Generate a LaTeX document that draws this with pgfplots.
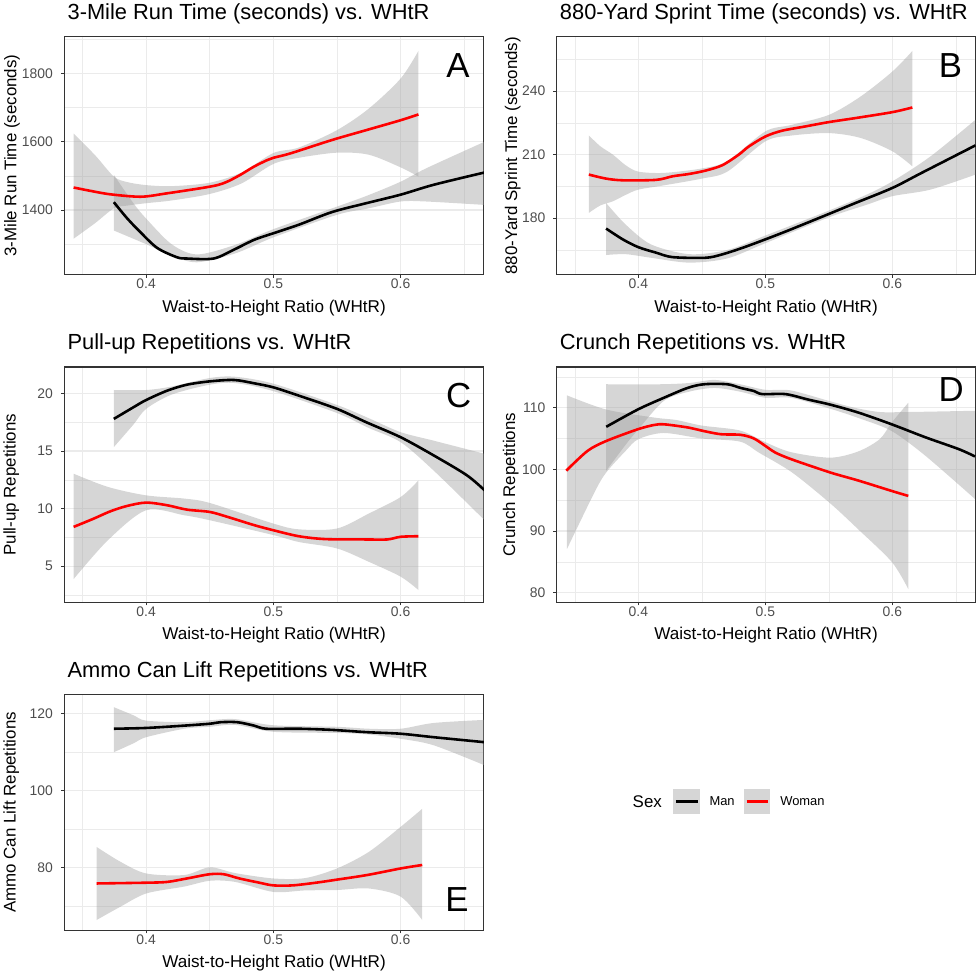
\documentclass[border=0pt]{standalone}
\usepackage{fontspec}
\setmainfont{Liberation Sans}
\usepackage{pgfplots}
\pgfplotsset{compat=1.18}
\usepgfplotslibrary{fillbetween}
\definecolor{gridc}{RGB}{235,235,235}
\definecolor{borderc}{RGB}{51,51,51}
\definecolor{tickc}{RGB}{77,77,77}
\definecolor{ribc}{RGB}{153,153,153}
\definecolor{wred}{RGB}{255,0,0}
\newcommand{\ribbon}[3]{%
 \addplot[name path=#1u,draw=none,smooth,forget plot] coordinates {#2};
 \addplot[name path=#1l,draw=none,smooth,forget plot] coordinates {#3};
 \addplot[fill=ribc,fill opacity=0.4,draw=none,forget plot] fill between[of=#1u and #1l];}
\tikzset{letter/.style={font=\fontsize{35}{35}\selectfont, anchor=center}}
\pgfplotsset{
 panel/.style={
  width=421bp, height=239bp, scale only axis,
  xmin=0.3355, xmax=0.6655,
  xtick={0.4,0.5,0.6}, xticklabels={0.4,0.5,0.6},
  minor xtick={0.35,0.45,0.55,0.65},
  grid=both,
  major grid style={gridc, line width=1.2bp},
  minor grid style={gridc, line width=0.6bp},
  axis line style={borderc, line width=1.1bp},
  tick style={borderc, line width=0.8bp},
  tick align=outside, major tick length=3bp, minor tick length=0pt,
  tick pos=left,
  /pgf/number format/assume math mode=true,
  ticklabel style={tickc, font=\fontsize{14}{14}\selectfont},
  xticklabel style={anchor=center, yshift=-6bp},
  yticklabel style={anchor=east, inner sep=0pt, xshift=-8bp},
  xlabel={Waist-to-Height Ratio (WHtR)},
  xlabel style={at={(axis description cs:0.5,-0.14)}, anchor=center, font=\fontsize{17.2}{17.2}\selectfont},
  ylabel style={at={(axis description cs:-0.124,0.5)}, anchor=center, font=\fontsize{17}{17}\selectfont},
  title style={at={(axis description cs:0,1)}, anchor=base west, yshift=11.5bp, font=\fontsize{22}{22}\selectfont},
  man/.style={black, line width=2.6bp, smooth},
  woman/.style={wred, line width=2.6bp, smooth},
 },
}
\begin{document}
\begin{tikzpicture}
\path (0,0) rectangle (980bp,974bp);
% ---------------- A ----------------
\begin{axis}[panel, at={(63bp,707bp)}, anchor=south west,
 ymin=1210, ymax=1908, ytick={1400,1600,1800}, yticklabels={1400,1600,1800},
 minor ytick={1300,1500,1700,1900},
 title={3-Mile Run Time (seconds) vs. WHtR}, ylabel={3-Mile Run Time (seconds)}]
\ribbon{am}{(0.3746,1503)(0.39,1420)(0.40,1375)(0.42,1300)(0.44,1270)(0.47,1298)(0.5,1344)(0.55,1410)(0.575,1444)(0.6,1483)(0.62,1522)(0.666,1600)}
 {(0.3746,1340)(0.40,1300)(0.42,1266)(0.44,1247)(0.47,1273)(0.5,1320)(0.55,1386)(0.575,1405)(0.6,1425)(0.62,1425)(0.666,1415)}
\ribbon{aw}{(0.343,1624)(0.36,1560)(0.3746,1498)(0.385,1482)(0.40,1473)(0.42,1470)(0.45,1480)(0.475,1510)(0.5,1567)(0.52,1583)(0.55,1634)(0.575,1697)(0.6,1785)(0.614,1866)}
 {(0.343,1316)(0.36,1362)(0.3746,1405)(0.385,1413)(0.40,1420)(0.42,1428)(0.45,1447)(0.475,1478)(0.5,1535)(0.52,1553)(0.55,1568)(0.575,1562)(0.6,1525)(0.614,1498)}
\addplot[man] coordinates {(0.3746,1423)(0.385,1376)(0.3955,1335)(0.4087,1289)(0.424,1262)(0.432,1258)(0.453,1258)(0.469,1284)(0.485,1313)(0.5,1332)(0.52,1357)(0.546,1394)(0.573,1420)(0.6,1445)(0.626,1474)(0.666,1510)};
\addplot[woman] coordinates {(0.343,1466)(0.355,1457)(0.372,1446)(0.396,1439)(0.4165,1449)(0.443,1464)(0.456,1473)(0.4637,1483)(0.474,1503)(0.4847,1527)(0.495,1546)(0.5,1553)(0.5135,1566)(0.546,1605)(0.573,1634)(0.6,1663)(0.614,1680)};
\node[letter] at (rel axis cs:0.938,0.879) {A};
\end{axis}
% ---------------- B ----------------
\begin{axis}[panel, at={(556.7bp,707bp)}, anchor=south west, width=420.3bp,
 ymin=153.2, ymax=265.8, ytick={180,210,240}, yticklabels={180,210,240},
 minor ytick={165,195,225,255},
 ylabel style={at={(axis description cs:-0.104,0.5)}},
 title={880-Yard Sprint Time (seconds) vs. WHtR}, ylabel={880-Yard Sprint Time (seconds)}]
\ribbon{bm}{(0.3746,187.2)(0.39,177)(0.41,167.6)(0.44,163)(0.47,165)(0.5,171.8)(0.55,183.6)(0.58,191.2)(0.6,197.4)(0.63,209.2)(0.6654,226.5)}
 {(0.3746,162.6)(0.39,163)(0.41,161.3)(0.44,159)(0.47,161)(0.5,168.2)(0.55,180.4)(0.58,186.4)(0.6,190.4)(0.63,193.5)(0.6654,200.6)}
\ribbon{bw}{(0.361,219.1)(0.37,214)(0.38,210)(0.39,205)(0.40,202)(0.42,201.4)(0.45,203.5)(0.47,207)(0.5,221)(0.52,224)(0.55,228.8)(0.575,237.5)(0.6,249.3)(0.6157,259)}
 {(0.361,182.5)(0.37,186)(0.38,188)(0.39,191)(0.40,193.5)(0.42,195.5)(0.45,198.7)(0.47,202)(0.5,216.3)(0.52,219)(0.55,220.2)(0.575,217.9)(0.6,211.6)(0.6157,204.5)}
\addplot[man] coordinates {(0.3746,175.1)(0.3877,170)(0.4,166.3)(0.414,163.7)(0.427,161.6)(0.453,161.3)(0.466,162.9)(0.482,166)(0.5,170)(0.518,174.2)(0.55,182)(0.571,187.2)(0.6,194.3)(0.623,201.4)(0.6654,214.4)};
\addplot[woman] coordinates {(0.361,200.6)(0.3746,198.7)(0.3877,197.9)(0.414,198.1)(0.427,199.8)(0.44,200.9)(0.453,202.5)(0.466,205)(0.479,210)(0.487,213.9)(0.5,218.6)(0.513,221.3)(0.531,223.3)(0.55,225.4)(0.571,227.3)(0.6,230.1)(0.6157,232.3)};
\node[letter] at (rel axis cs:0.94,0.879) {B};
\end{axis}
% ---------------- C ----------------
\begin{axis}[panel, at={(63bp,378.7bp)}, anchor=south west, height=236bp,
 ymin=1.86, ymax=22.3, ytick={5,10,15,20}, yticklabels={5,10,15,20},
 minor ytick={2.5,7.5,12.5,17.5},
 ylabel style={at={(axis description cs:-0.126,0.5)}},
 title={Pull-up Repetitions vs. WHtR}, ylabel={Pull-up Repetitions}]
\ribbon{cm}{(0.3746,20.3)(0.40,20.3)(0.42,20.6)(0.45,21.34)(0.47,21.45)(0.5,20.85)(0.55,19.0)(0.575,17.85)(0.6,16.64)(0.626,15.9)(0.666,14.76)}
 {(0.3746,15.34)(0.39,17.3)(0.40,18.66)(0.42,19.9)(0.45,20.76)(0.47,20.9)(0.5,20.2)(0.55,18.3)(0.575,17.0)(0.6,15.77)(0.626,13.3)(0.666,8.99)}
\ribbon{cw}{(0.343,13.03)(0.37,11.88)(0.40,11.15)(0.43,10.87)(0.45,10.49)(0.5,8.7)(0.52,8.2)(0.55,8.27)(0.575,9.57)(0.6,11.0)(0.614,12.45)}
 {(0.343,3.88)(0.37,7.26)(0.40,9.86)(0.43,9.42)(0.45,8.99)(0.5,7.7)(0.52,7.1)(0.55,6.54)(0.575,5.38)(0.6,4.09)(0.614,2.93)}
\addplot[man] coordinates {(0.3746,17.79)(0.39,18.8)(0.4,19.43)(0.4165,20.24)(0.432,20.76)(0.45,21.05)(0.469,21.17)(0.485,20.88)(0.5,20.53)(0.52,19.81)(0.55,18.66)(0.573,17.5)(0.6,16.2)(0.626,14.62)(0.652,12.9)(0.666,11.59)};
\addplot[woman] coordinates {(0.343,8.41)(0.3588,9.13)(0.372,9.77)(0.385,10.23)(0.4,10.52)(0.4165,10.29)(0.432,9.91)(0.45,9.71)(0.464,9.28)(0.485,8.56)(0.5,8.12)(0.52,7.6)(0.541,7.35)(0.573,7.32)(0.5895,7.32)(0.6,7.55)(0.614,7.6)};
\node[letter] at (rel axis cs:0.94,0.878) {C};
\end{axis}
% ---------------- D ----------------
\begin{axis}[panel, at={(556.7bp,378.7bp)}, anchor=south west, width=420.3bp, height=236bp,
 ymin=78.45, ymax=116.6, ytick={80,90,100,110}, yticklabels={80,90,100,110},
 minor ytick={85,95,105,115},
 ylabel style={at={(axis description cs:-0.109,0.5)}},
 title={Crunch Repetitions vs. WHtR}, ylabel={Crunch Repetitions}]
\ribbon{dm}{(0.3747,113.8)(0.4178,113.8)(0.44,114.0)(0.46,114.5)(0.48,113.8)(0.50,112.9)(0.52,112.8)(0.55,111.1)(0.57,110.0)(0.59,109.3)(0.6125,109.3)(0.665,109.5)}
 {(0.3747,99.8)(0.39,104.0)(0.40,106.5)(0.42,111.1)(0.44,112.6)(0.46,113.2)(0.48,112.6)(0.50,111.6)(0.52,111.6)(0.55,109.9)(0.575,108.2)(0.5995,106.2)(0.626,102.2)(0.665,95.2)}
\ribbon{dw}{(0.3438,112.0)(0.3747,109.7)(0.4125,108.4)(0.43,108.0)(0.45,107.1)(0.48,106.3)(0.5,104.4)(0.52,102.8)(0.551,101.9)(0.573,102.9)(0.59,104.9)(0.5995,107.6)(0.6125,110.8)}
 {(0.3438,87.1)(0.3655,96.3)(0.3747,99.5)(0.39,103.0)(0.40,104.9)(0.42,105.9)(0.45,105.0)(0.48,104.5)(0.495,102.7)(0.521,99.5)(0.551,94.5)(0.573,90.3)(0.5995,85.0)(0.6125,80.6)}
\addplot[man] coordinates {(0.3747,106.9)(0.3995,109.7)(0.42,111.6)(0.4387,113.2)(0.4518,113.8)(0.47,113.8)(0.4805,113.2)(0.491,112.7)(0.4975,112.2)(0.5159,112.2)(0.534,111.3)(0.551,110.5)(0.5733,109.2)(0.5995,107.3)(0.626,105.2)(0.652,103.3)(0.665,102.1)};
\addplot[woman] coordinates {(0.3433,99.8)(0.360,103.0)(0.3747,104.6)(0.3995,106.5)(0.4125,107.2)(0.4204,107.3)(0.4387,106.8)(0.4518,106.2)(0.4649,105.7)(0.4805,105.6)(0.491,105.0)(0.5014,103.6)(0.508,102.7)(0.521,101.6)(0.551,99.5)(0.573,98.2)(0.5995,96.5)(0.6125,95.7)};
\node[letter] at (rel axis cs:0.942,0.905) {D};
\end{axis}
% ---------------- E ----------------
\begin{axis}[panel, at={(63bp,49.7bp)}, anchor=south west, height=236.6bp,
 ymin=63.6, ymax=124.9, ytick={80,100,120}, yticklabels={80,100,120},
 minor ytick={70,90,110},
 ylabel style={at={(axis description cs:-0.126,0.5)}},
 title={Ammo Can Lift Repetitions vs. WHtR}, ylabel={Ammo Can Lift Repetitions}]
\ribbon{em}{(0.3746,121.6)(0.39,119.5)(0.40,118.1)(0.43,117.7)(0.45,118.2)(0.47,118.5)(0.5,116.9)(0.55,116.5)(0.575,116.0)(0.6,116.0)(0.626,117.5)(0.666,118.3)}
 {(0.3746,109.9)(0.39,112.2)(0.40,113.8)(0.43,116.0)(0.45,116.5)(0.47,117.0)(0.5,115.2)(0.55,114.9)(0.575,114.5)(0.6,113.4)(0.626,111.7)(0.666,106.5)}
\ribbon{ew}{(0.361,85.3)(0.38,81.4)(0.40,78.4)(0.43,78.0)(0.45,80.0)(0.47,78.5)(0.5,77.1)(0.525,77.2)(0.55,79.7)(0.575,84.0)(0.6,90.5)(0.617,95.2)}
 {(0.361,66.3)(0.38,69.8)(0.40,73.2)(0.43,75.0)(0.45,76.5)(0.47,76.2)(0.5,73.6)(0.525,74.0)(0.55,74.1)(0.575,74.5)(0.6,72.4)(0.617,66.3)}
\addplot[man] coordinates {(0.3746,116.0)(0.4,116.2)(0.4296,116.8)(0.45,117.3)(0.4585,117.7)(0.4716,117.7)(0.485,116.8)(0.4942,116.0)(0.52,116.0)(0.546,115.7)(0.5738,115.1)(0.6,114.7)(0.626,113.8)(0.666,112.5)};
\addplot[woman] coordinates {(0.361,75.8)(0.4,76.0)(0.4165,76.2)(0.432,77.1)(0.45,78.2)(0.461,78.2)(0.4733,77.1)(0.489,76.0)(0.5,75.3)(0.515,75.3)(0.5335,76.0)(0.55,76.8)(0.5738,78.0)(0.6,79.7)(0.617,80.6)};
\node[letter] at (rel axis cs:0.936,0.132) {E};
\end{axis}
% ---------------- legend ----------------
\node[anchor=west, inner sep=0pt, font=\fontsize{17}{17}\selectfont] at (633bp,179bp) {Sex};
\fill[ribc, opacity=0.4] (674bp,166bp) rectangle (701bp,192bp);
\draw[black, line width=2.6bp] (676.5bp,179bp) -- (698.5bp,179bp);
\node[anchor=west, inner sep=0pt, font=\fontsize{13}{13}\selectfont] at (710bp,179bp) {Man};
\fill[ribc, opacity=0.4] (745bp,166bp) rectangle (771bp,192bp);
\draw[wred, line width=2.6bp] (747.5bp,179bp) -- (768.5bp,179bp);
\node[anchor=west, inner sep=0pt, font=\fontsize{13}{13}\selectfont] at (781bp,179bp) {Woman};
\end{tikzpicture}
\end{document}
